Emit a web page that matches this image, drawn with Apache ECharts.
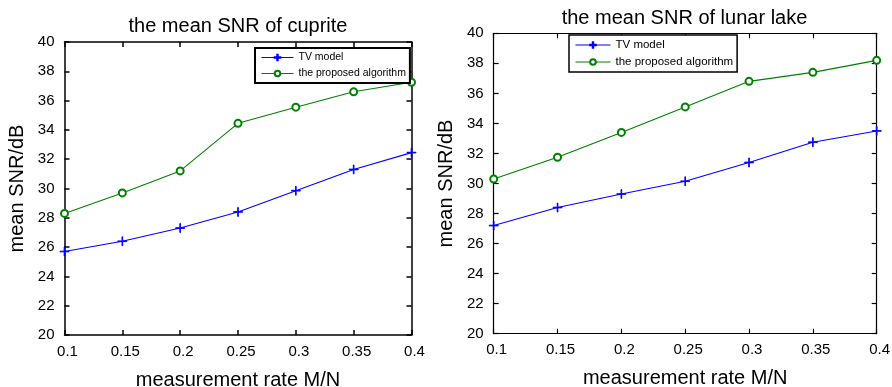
<!DOCTYPE html>
<html>
<head>
<meta charset="utf-8">
<script src="https://cdn.jsdelivr.net/npm/echarts@6/dist/echarts.min.js"></script>
<style>
html,body{margin:0;padding:0;background:#fff;}
#c{width:892px;height:387px;}
</style>
</head>
<body>
<div id="c"></div>
<script>
const xValues = [0.1, 0.15, 0.2, 0.25, 0.3, 0.35, 0.4];
const cupriteTV = [25.7, 26.4, 27.3, 28.4, 29.85, 31.3, 32.45];
const cupriteProposed = [28.3, 29.7, 31.2, 34.45, 35.55, 36.6, 37.25];
const lunarTV = [27.2, 28.4, 29.3, 30.15, 31.4, 32.75, 33.5];
const lunarProposed = [30.3, 31.75, 33.4, 35.1, 36.8, 37.4, 38.2];
const seriesNames = ['TV model', 'the proposed algorithm'];
const titles = ['the mean SNR of cuprite', 'the mean SNR of lunar lake'];
const xName = 'measurement rate M/N';
const yName = 'mean SNR/dB';

const FONT = 'Liberation Sans, Arial, sans-serif';
const BLUE = '#0000ff';
const GREEN = '#008000';
const plusPath = 'path://M4.6,0 H5.4 V4.6 H10 V5.4 H5.4 V10 H4.6 V5.4 H0 V4.6 H4.6 Z';

const pairs = (ys) => xValues.map((x, i) => [x, ys[i]]);

const grids = [
  {left: 64.5, top: 42, width: 347, height: 293, bw: 1.5},
  {left: 493.7, top: 33.3, width: 383, height: 300.4, bw: 1.2}
];

const xAxes = [], yAxes = [];
grids.forEach((g, gi) => {
  const lineStyle = {color: '#000', width: g.bw};
  xAxes.push({
    type: 'value', gridIndex: gi, position: 'bottom', min: 0.1, max: 0.4, interval: 0.05,
    name: xName, nameLocation: 'middle', nameGap: 35,
    nameTextStyle: {fontFamily: FONT, fontSize: 20, color: '#000'},
    axisLine: {show: true, onZero: false, lineStyle},
    axisTick: {show: true, inside: true, length: 5, lineStyle},
    axisLabel: {fontFamily: FONT, fontSize: 15, color: '#000', margin: 9, padding: [0, 0, 0, 6]},
    splitLine: {show: false}
  });
  xAxes.push({
    type: 'value', gridIndex: gi, position: 'top', min: 0.1, max: 0.4, interval: 0.05,
    axisLine: {show: true, onZero: false, lineStyle},
    axisTick: {show: true, inside: true, length: 5, lineStyle},
    axisLabel: {show: false}, splitLine: {show: false}
  });
  yAxes.push({
    type: 'value', gridIndex: gi, position: 'left', min: 20, max: 40, interval: 2,
    name: yName, nameLocation: 'middle', nameGap: 37,
    nameTextStyle: {fontFamily: FONT, fontSize: 20, color: '#000'},
    axisLine: {show: true, onZero: false, lineStyle},
    axisTick: {show: true, inside: true, length: 5, lineStyle},
    axisLabel: {fontFamily: FONT, fontSize: 15, color: '#000', margin: 10},
    splitLine: {show: false}
  });
  yAxes.push({
    type: 'value', gridIndex: gi, position: 'right', min: 20, max: 40, interval: 2,
    axisLine: {show: true, onZero: false, lineStyle},
    axisTick: {show: true, inside: true, length: 5, lineStyle},
    axisLabel: {show: false}, splitLine: {show: false}
  });
});

function mkSeries(name, data, gi, color, symbol, size) {
  return {
    type: 'line', name, data: pairs(data),
    xAxisIndex: gi * 2, yAxisIndex: gi * 2,
    symbol, symbolSize: size, showSymbol: true,
    lineStyle: {color, width: 1.1},
    itemStyle: {color, borderColor: color, borderWidth: 0.9},
    emphasis: {disabled: true},
    animation: false
  };
}

const option = {
  animation: false,
  backgroundColor: '#fff',
  title: [
    {text: titles[0], left: 238, top: 16, textAlign: 'center', padding: 0,
     textStyle: {fontFamily: FONT, fontSize: 20, fontWeight: 'normal', color: '#000'}},
    {text: titles[1], left: 684.5, top: 8, textAlign: 'center', padding: 0,
     textStyle: {fontFamily: FONT, fontSize: 20, fontWeight: 'normal', color: '#000'}}
  ],
  legend: [
    {data: seriesNames, orient: 'vertical', left: 255, top: 48, itemWidth: 32, itemHeight: 7, itemGap: 5,
     padding: [4, 4, 4, 6], borderColor: '#000', borderWidth: 2, backgroundColor: '#fff',
     lineStyle: {width: 1},
     textStyle: {fontFamily: FONT, fontSize: 10.5, color: '#000'}},
    {data: seriesNames, orient: 'vertical', left: 569, top: 35, itemWidth: 35, itemHeight: 7, itemGap: 5,
     padding: [4, 4, 4, 6], borderColor: '#000', borderWidth: 1.5, backgroundColor: '#fff',
     lineStyle: {width: 1},
     textStyle: {fontFamily: FONT, fontSize: 11.5, color: '#000'}}
  ],
  grid: grids.map(g => ({left: g.left, top: g.top, width: g.width, height: g.height,
    containLabel: false, outerBoundsMode: 'none'})),
  xAxis: xAxes,
  yAxis: yAxes,
  series: [
    mkSeries(seriesNames[0], cupriteTV, 0, BLUE, plusPath, 9),
    mkSeries(seriesNames[1], cupriteProposed, 0, GREEN, 'emptyCircle', 7),
    mkSeries(seriesNames[0], lunarTV, 1, BLUE, plusPath, 9),
    mkSeries(seriesNames[1], lunarProposed, 1, GREEN, 'emptyCircle', 7)
  ]
};

const chart = echarts.init(document.getElementById('c'), null, {renderer: 'canvas'});
chart.setOption(option);
</script>
</body>
</html>
